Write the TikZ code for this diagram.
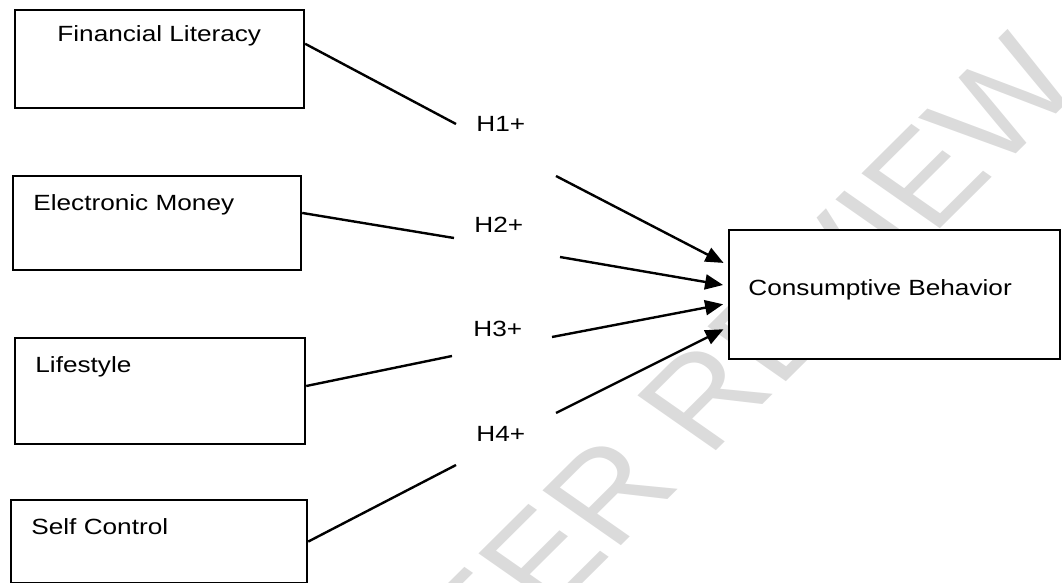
\documentclass[tikz,border=0pt]{standalone}
\usepackage{fontspec}
\setmainfont{Liberation Sans}
\usepackage{graphicx}
\usetikzlibrary{arrows.meta}

\newcommand{\wide}[1]{\scalebox{1.19}[1]{#1}}

\tikzset{
	varbox/.style={draw, line width=1.1pt, fill=white, anchor=north west, inner sep=0pt},
	lbl/.style={anchor=base west, inner sep=0pt, font=\fontsize{11}{13}\selectfont},
	link/.style={line width=1.2pt},
	arr/.style={link, -{Triangle[length=9pt,width=7.5pt]}, shorten >=2.5pt},
	watermark/.style={text=black!14, font=\fontsize{62}{62}\selectfont, rotate=50, transform shape, inner sep=0pt}
}

\begin{document}
\begin{tikzpicture}[x=0.5pt, y=0.5pt]
	\useasboundingbox (0,0) rectangle (1062,-583);
	\clip (0,0) rectangle (1062,-583);
	\begin{scope}[shift={(715,-386)}, xscale=1.2]
		\node[watermark] (wm) at (0,0) {PEER REVIEW};
	\end{scope}
	% variables
	\node[varbox, minimum width=144.5pt, minimum height=49pt] (fin) at (14,-9) {};
	\node[varbox, minimum width=144pt, minimum height=47pt] (emoney) at (12,-175) {};
	\node[varbox, minimum width=145pt, minimum height=53pt] (life) at (14,-337) {};
	\node[varbox, minimum width=148pt, minimum height=41.5pt] (self) at (10,-499) {};
	\node[varbox, minimum width=165.5pt, minimum height=64.5pt] (cons) at (728,-229) {};
	\node[lbl] (finlbl) at (57,-42) {\wide{Financial Literacy}};
	\node[lbl] (emoneylbl) at (33,-211) {\wide{Electronic Money}};
	\node[lbl] (lifelbl) at (35,-372) {\wide{Lifestyle}};
	\node[lbl] (selflbl) at (31,-534) {\wide{Self Control}};
	\node[lbl] (conslbl) at (748,-295) {\wide{Consumptive Behavior}};
	% hypotheses
	\node[lbl] (h1) at (476,-132) {\wide{H1+}};
	\node[lbl] (h2) at (474,-233) {\wide{H2+}};
	\node[lbl] (h3) at (473,-336) {\wide{H3+}};
	\node[lbl] (h4) at (476,-441) {\wide{H4+}};
	\coordinate (h1in) at (456,-124);
	\coordinate (h1out) at (556,-176);
	\coordinate (h2in) at (454,-238);
	\coordinate (h2out) at (560,-257);
	\coordinate (h3in) at (452,-356);
	\coordinate (h3out) at (552,-337);
	\coordinate (h4in) at (456,-465);
	\coordinate (h4out) at (556,-413);
	\draw[link] (fin.6) -- (h1in);
	\draw[link] (emoney.4) -- (h2in);
	\draw[link] (life.2) -- (h3in);
	\draw[link] (self.east) -- (h4in);
	\draw[arr] (h1out) -- (cons.170);
	\draw[arr] (h2out) -- (cons.177);
	\draw[arr] (h3out) -- (cons.183);
	\draw[arr] (h4out) -- (cons.191);
\end{tikzpicture}
\end{document}
